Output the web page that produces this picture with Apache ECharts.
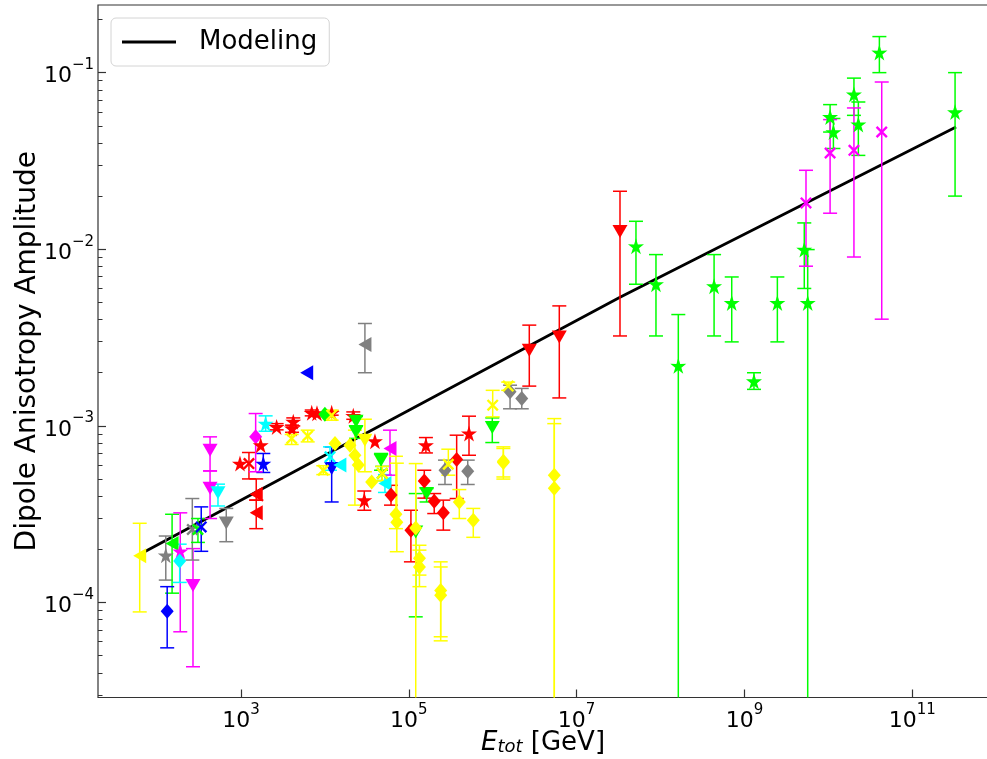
<!DOCTYPE html>
<html>
<head>
<meta charset="utf-8">
<script src="https://cdn.jsdelivr.net/npm/echarts@6/dist/echarts.min.js"></script>
<style>
  html, body { margin: 0; padding: 0; background: #fff; }
  #chart { width: 987px; height: 759px; }
</style>
</head>
<body>
<div id="chart"></div>
<script>
// each point: [E_tot (GeV), amplitude, lower error end, upper error end]
var yellowLeftTri = [[62.1, 1.84e-4, 8.85e-5, 2.81e-4]];
var grayStar = [[127, 1.85e-4, 1.34e-4, 2.38e-4]];
var greenLeftTri = [[151, 2.16e-4, 1.13e-4, 3.16e-4]];
var blueDiamond = [[132, 8.93e-5, 5.54e-5, 1.23e-4]];
var magentaStar = [[189, 1.95e-4, 6.83e-5, 3.22e-4]];
var cyanDiamond = [[186, 1.72e-4, 1.30e-4, 2.14e-4]];
var magentaDownTri = [[268, 1.25e-4, 4.33e-5, 2.02e-4], [428, 7.28e-4, 5.56e-4, 8.67e-4], [428, 4.43e-4, 2.99e-4, 5.56e-4]];
var grayX = [[263, 2.59e-4, 1.74e-4, 3.88e-4]];
var greenX = [[307, 2.59e-4, 2.19e-4, 2.99e-4], [4.83e4, 5.38e-4, 4.9e-4, 5.9e-4]];
var blueX = [[336, 2.68e-4, 1.95e-4, 3.48e-4]];
var cyanDownTri = [[532, 4.18e-4, 3.52e-4, 4.68e-4]];
var grayDownTri = [[668, 2.82e-4, 2.21e-4, 3.41e-4]];
var redLeftTri = [[1520, 4.10e-4, 3.80e-4, 5.01e-4], [1520, 3.22e-4, 2.62e-4, 3.80e-4]];
var redX = [[1245, 6.12e-4, 5.01e-4, 7.07e-4]];
var blueStar = [[1845, 6.12e-4, 5.45e-4, 6.98e-4]];
var magentaDiamond = [[1496, 8.67e-4, 5.50e-4, 1.175e-3]];
var cyanStar = [[1968, 1.03e-3, 9.33e-4, 1.14e-3]];
var redStar = [
  [973, 6.12e-4], [1718, 7.78e-4], [2660, 9.87e-4, 9.5e-4, 1.03e-3],
  [4200, 1.057e-3, 1.0e-3, 1.11e-3], [4060, 9.67e-4, 9.2e-4, 1.01e-3],
  [6970, 1.186e-3, 1.14e-3, 1.23e-3], [8050, 1.18e-3], [1.205e4, 1.186e-3, 1.15e-3, 1.22e-3],
  [2.18e4, 1.14e-3, 1.09e-3, 1.2e-3], [3.95e4, 8.19e-4],
  [2.95e4, 3.80e-4, 3.33e-4, 4.28e-4], [1.60e5, 7.78e-4, 7.03e-4, 8.59e-4],
  [5.22e5, 9.06e-4, 6.82e-4, 1.135e-3]
];
var greenDiamond = [[1.0e4, 1.165e-3]];
var yellowX = [
  [4020, 8.49e-4, 7.85e-4, 8.94e-4], [6240, 8.78e-4, 8.12e-4, 9.46e-4],
  [1.205e4, 1.15e-3, 1.077e-3, 1.227e-3], [9570, 5.61e-4, 5.3e-4, 5.95e-4],
  [4.83e4, 5.38e-4, 4.9e-4, 5.9e-4], [2.96e5, 6.07e-4, 5.26e-4, 7.38e-4],
  [1.0e6, 1.31e-3, 1.125e-3, 1.59e-3], [1.53e6, 1.68e-3, 1.59e-3, 1.77e-3]
];
var greenDownTri = [
  [2.35e4, 1.063e-3, 1.0e-3, 1.13e-3], [2.35e4, 9.25e-4, 8.5e-4, 1.0e-3],
  [4.67e4, 6.40e-4, 5.61e-4, 6.98e-4], [1.63e5, 4.14e-4, 3.71e-4, 4.42e-4],
  [1.21e5, 2.51e-4, 8.3e-5, 4.14e-4], [9.89e5, 9.79e-4, 8.05e-4, 1.11e-3]
];
var yellowDownTri = [[3.0e4, 8.30e-4, 5.50e-4, 1.091e-3]];
var blueDownTri = [[1.205e4, 5.74e-4, 3.71e-4, 7.61e-4]];
var cyanX = [[1.15e4, 6.68e-4, 5.61e-4, 7.61e-4]];
var cyanLeftTri = [[1.51e4, 6.0e-4], [5.2e4, 4.72e-4, 4.2e-4, 5.3e-4]];
var yellowDiamond = [
  [1.32e4, 7.95e-4], [1.99e4, 7.78e-4], [2.28e4, 6.82e-4, 3.56e-4, 9.46e-4],
  [2.50e4, 6.0e-4], [3.61e4, 4.82e-4],
  [7.03e4, 3.16e-4, 2.62e-4, 6.73e-4], [7.2e4, 2.85e-4, 1.94e-4, 6.15e-4],
  [1.21e5, 2.64e-4, 1e-6, 6.12e-4],
  [1.34e5, 1.78e-4, 1.43e-4, 2.11e-4], [1.34e5, 1.59e-4, 1.23e-4, 1.98e-4],
  [2.40e5, 1.17e-4, 6.40e-5, 1.70e-4], [2.40e5, 1.10e-4, 6.07e-5, 1.59e-4],
  [4.0e5, 3.71e-4, 2.99e-4, 4.36e-4], [5.87e5, 2.92e-4, 2.34e-4, 3.41e-4],
  [1.34e6, 6.31e-4, 5.14e-4, 7.61e-4], [1.34e6, 6.2e-4, 5.0e-4, 7.45e-4],
  [5.42e6, 5.26e-4, 1e-6, 1.10e-3], [5.42e6, 4.43e-4, 1e-6, 1.03e-3]
];
var redDiamond = [
  [6.14e4, 4.06e-4, 3.56e-4, 4.61e-4], [3.72e5, 6.46e-4, 3.88e-4, 8.86e-4],
  [1.53e5, 4.87e-4, 3.90e-4, 5.61e-4], [2.01e5, 3.75e-4, 3.19e-4, 4.14e-4],
  [2.58e5, 3.22e-4, 2.57e-4, 3.80e-4], [1.06e5, 2.57e-4, 1.70e-4, 3.33e-4]
];
var grayDiamond = [
  [2.70e5, 5.61e-4, 4.66e-4, 6.40e-4], [5.04e5, 5.54e-4, 4.66e-4, 6.40e-4],
  [1.61e6, 1.56e-3, 1.25e-3, 1.70e-3], [2.22e6, 1.43e-3, 1.25e-3, 1.63e-3]
];
var magentaLeftTri = [[5.97e4, 7.45e-4, 5.26e-4, 9.46e-4]];
var grayLeftTri = [[3.0e4, 2.89e-3, 2.0e-3, 3.80e-3]];
var blueLeftTri = [[6070, 2.0e-3]];
var redDownTri = [
  [2.73e6, 2.68e-3, 1.68e-3, 3.72e-3], [6.22e6, 3.19e-3, 1.44e-3, 4.78e-3],
  [3.29e7, 1.26e-2, 3.23e-3, 2.13e-2]
];
var greenStar = [
  [5.10e7, 1.04e-2, 6.34e-3, 1.44e-2], [8.83e7, 6.34e-3, 3.23e-3, 9.33e-3],
  [1.63e8, 2.19e-3, 1e-6, 4.27e-3], [4.35e8, 6.18e-3, 3.23e-3, 9.33e-3],
  [7.06e8, 4.97e-3, 2.99e-3, 6.97e-3], [1.30e9, 1.79e-3, 1.61e-3, 2.0e-3],
  [2.47e9, 4.97e-3, 2.99e-3, 6.97e-3], [5.17e9, 9.96e-3, 6.0e-3, 1.41e-2],
  [5.68e9, 4.97e-3, 1e-6, 9.96e-3], [1.05e10, 5.61e-2, 4.61e-2, 6.59e-2],
  [1.15e10, 4.61e-2, 3.72e-2, 5.50e-2], [2.02e10, 7.53e-2, 5.73e-2, 9.31e-2],
  [2.28e10, 5.09e-2, 3.40e-2, 6.82e-2], [4.06e10, 0.130, 0.100, 0.160],
  [3.24e11, 5.98e-2, 2.0e-2, 0.100]
];
var magentaX = [
  [5.42e9, 1.83e-2, 8.02e-3, 2.80e-2], [1.05e10, 3.51e-2, 1.60e-2, 5.42e-2],
  [2.02e10, 3.63e-2, 9.04e-3, 6.31e-2], [4.33e10, 4.61e-2, 4.02e-3, 8.85e-2]
];

var modelX = [71.1, 3.29e7, 3.33e11];
var modelY = [1.94e-4, 5.35e-3, 4.92e-2];

var xTicks = [1e3, 1e5, 1e7, 1e9, 1e11];
var yTicks = [1e-4, 1e-3, 1e-2, 1e-1];

var FONT = 'DejaVu Sans';
var STAR = 'path://M50,0L61.2,34.6L97.6,34.5L68.1,55.9L79.4,90.5L50,69L20.6,90.5L31.9,55.9L2.4,34.5L38.8,34.6Z';
var XMARK = 'path://M0,1.4L1.4,0L10,8.6L8.6,10ZM8.6,0L10,1.4L1.4,10L0,8.6Z';

var shapes = {
  star: { symbol: STAR, size: 16, rotate: 0 },
  down: { symbol: 'triangle', size: [15, 13], rotate: 180 },
  left: { symbol: 'triangle', size: [15, 13], rotate: 90 },
  diamond: { symbol: 'diamond', size: [13, 15], rotate: 0 },
  x: { symbol: XMARK, size: 12, rotate: 0 }
};

var groups = [
  [yellowLeftTri, '#ffff00', 'left'],
  [grayStar, '#808080', 'star'],
  [greenLeftTri, '#00ff00', 'left'],
  [blueDiamond, '#0000ff', 'diamond'],
  [magentaStar, '#ff00ff', 'star'],
  [cyanDiamond, '#00ffff', 'diamond'],
  [magentaDownTri, '#ff00ff', 'down'],
  [grayX, '#808080', 'x'],
  [greenX, '#00ff00', 'x'],
  [blueX, '#0000ff', 'x'],
  [cyanDownTri, '#00ffff', 'down'],
  [grayDownTri, '#808080', 'down'],
  [redLeftTri, '#ff0000', 'left'],
  [redX, '#ff0000', 'x'],
  [blueStar, '#0000ff', 'star'],
  [magentaDiamond, '#ff00ff', 'diamond'],
  [cyanStar, '#00ffff', 'star'],
  [redStar, '#ff0000', 'star'],
  [greenDiamond, '#00ff00', 'diamond'],
  [greenDownTri, '#00ff00', 'down'],
  [blueDownTri, '#0000ff', 'down'],
  [cyanX, '#00ffff', 'x'],
  [cyanLeftTri, '#00ffff', 'left'],
  [redDiamond, '#ff0000', 'diamond'],
  [grayDiamond, '#808080', 'diamond'],
  [magentaLeftTri, '#ff00ff', 'left'],
  [grayLeftTri, '#808080', 'left'],
  [blueLeftTri, '#0000ff', 'left'],
  [yellowDiamond, '#ffff00', 'diamond'],
  [yellowDownTri, '#ffff00', 'down'],
  [yellowX, '#ffff00', 'x'],
  [redDownTri, '#ff0000', 'down'],
  [greenStar, '#00ff00', 'star'],
  [magentaX, '#ff00ff', 'x']
];

function errorBars(color) {
  return function (params, api) {
    var lo = api.value(2), hi = api.value(3);
    if (isNaN(lo) || isNaN(hi)) return null;
    var x = api.value(0);
    var top = api.coord([x, hi]);
    var bot = api.coord([x, lo]);
    var cs = params.coordSys;
    var yMax = cs.y + cs.height;
    var ty = Math.max(top[1], cs.y), by = Math.min(bot[1], yMax);
    var st = { stroke: color, lineWidth: 1.5 };
    var kids = [{ type: 'line', shape: { x1: top[0], y1: ty, x2: top[0], y2: by }, style: st }];
    if (top[1] >= cs.y) kids.push({ type: 'line', shape: { x1: top[0] - 7, y1: top[1], x2: top[0] + 7, y2: top[1] }, style: st });
    if (bot[1] <= yMax) kids.push({ type: 'line', shape: { x1: bot[0] - 7, y1: bot[1], x2: bot[0] + 7, y2: bot[1] }, style: st });
    return { type: 'group', children: kids };
  };
}

function supLabel(v) {
  var e = Math.round(Math.log10(v));
  return '{b|10}{s|' + (e < 0 ? '\u2212' + (-e) : e) + '}';
}
var tickRich = {
  b: { fontFamily: FONT, fontSize: 22, color: '#000', lineHeight: 30, verticalAlign: 'bottom' },
  s: { fontFamily: FONT, fontSize: 15, color: '#000', lineHeight: 17, verticalAlign: 'top' }
};

var yMinor = [];
[1e-5, 1e-4, 1e-3, 1e-2, 1e-1].forEach(function (d) {
  for (var m = 2; m <= 9; m++) yMinor.push(m * d);
});

var series = [{
  name: 'Modeling',
  type: 'line',
  data: modelX.map(function (x, i) { return [x, modelY[i]]; }),
  symbol: 'none',
  lineStyle: { color: '#000', width: 2.8 },
  itemStyle: { color: '#000' },
  z: 2
}];

groups.forEach(function (g) {
  var sh = shapes[g[2]];
  series.push({
    type: 'custom',
    dimensions: ['x', 'y', 'lo', 'hi'],
    encode: { x: 0, y: 1 },
    data: g[0],
    renderItem: errorBars(g[1]),
    z: 3
  });
  series.push({
    type: 'scatter',
    data: g[0].map(function (p) { return [p[0], p[1]]; }),
    symbol: sh.symbol,
    symbolSize: sh.size,
    symbolRotate: sh.rotate,
    itemStyle: { color: g[1], opacity: 1 },
    z: 3
  });
});

var chart = echarts.init(document.getElementById('chart'), null, { renderer: 'canvas' });
chart.setOption({
  animation: false,
  backgroundColor: '#fff',
  grid: {
    left: 98, top: 5, right: -1, bottom: 61.5,
    outerBoundsMode: 'none', containLabel: false,
    show: true, borderColor: '#333', borderWidth: 1.2
  },
  legend: {
    data: [{ name: 'Modeling', icon: 'rect' }],
    left: 111, top: 18,
    padding: [11, 12, 11, 11],
    itemWidth: 54, itemHeight: 3,
    itemStyle: { color: '#000' },
    backgroundColor: '#fff', borderColor: '#d4d4d4', borderWidth: 1, borderRadius: 5,
    textStyle: { fontFamily: FONT, fontSize: 26, lineHeight: 25, color: '#000', padding: [0, 0, 0, 18] }
  },
  xAxis: {
    type: 'log', logBase: 10, min: 19.77, max: 8.0e11,
    name: '{i|E}{sub|tot}{n| [GeV]}',
    nameLocation: 'middle', nameGap: 33, nameMoveOverlap: false,
    nameTextStyle: {
      rich: {
        i: { fontFamily: FONT, fontSize: 26, fontStyle: 'italic', color: '#000' },
        sub: { fontFamily: FONT, fontSize: 18, fontStyle: 'italic', color: '#000', verticalAlign: 'bottom', lineHeight: 20, padding: [8, 0, 0, 0] },
        n: { fontFamily: FONT, fontSize: 26, color: '#000' }
      }
    },
    axisLine: { show: false },
    splitLine: { show: false },
    axisTick: { inside: true, length: 8, lineStyle: { color: '#333', width: 1.2 }, customValues: xTicks },
    axisLabel: { customValues: xTicks, margin: 5, formatter: supLabel, rich: tickRich }
  },
  yAxis: [{
    type: 'log', logBase: 10, min: 2.90e-5, max: 0.2415,
    name: 'Dipole Anisotropy Amplitude',
    nameLocation: 'middle', nameGap: 56, nameMoveOverlap: false,
    nameTextStyle: { fontFamily: FONT, fontSize: 28, color: '#000' },
    axisLine: { show: false },
    splitLine: { show: false },
    axisTick: { inside: true, length: 8, lineStyle: { color: '#333', width: 1.2 }, customValues: yTicks },
    axisLabel: { customValues: yTicks, margin: 4, formatter: supLabel, rich: tickRich }
  }, {
    type: 'log', logBase: 10, min: 2.90e-5, max: 0.2415,
    position: 'left',
    axisLine: { show: false },
    splitLine: { show: false },
    axisLabel: { show: false },
    axisTick: { inside: true, length: 4.5, lineStyle: { color: '#333', width: 1 }, customValues: yMinor }
  }],
  series: series
});
</script>
</body>
</html>
